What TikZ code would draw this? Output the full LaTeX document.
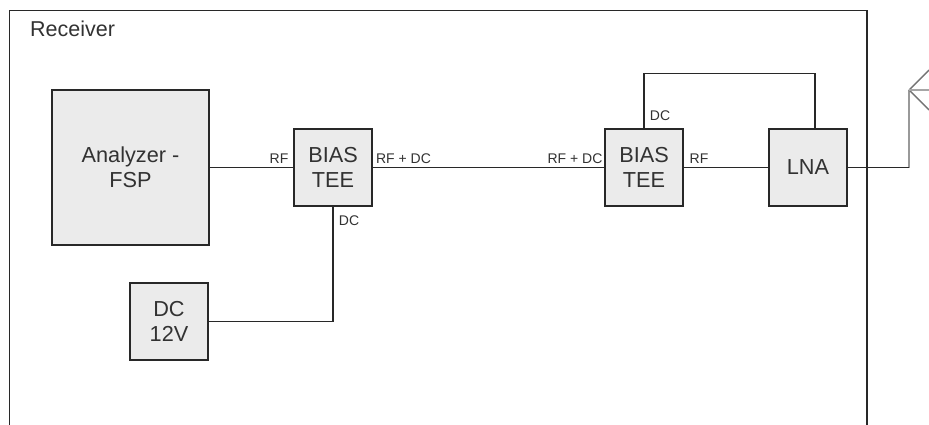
\documentclass[tikz,border=0pt]{standalone}
\usepackage{fontspec}
\setmainfont{Liberation Sans}
\usetikzlibrary{calc,positioning}
\definecolor{boxfill}{RGB}{235,235,235}
\definecolor{wiredark}{RGB}{40,40,40}
\definecolor{inktext}{RGB}{50,50,50}
\tikzset{
  blockbox/.style={draw=wiredark, fill=boxfill, line width=1.4pt, align=center, inner sep=0pt,
                   text=inktext, font=\fontsize{21.7}{25}\selectfont},
  wire/.style={wiredark, line width=1.5pt},
  plabel/.style={font=\fontsize{14}{15}\selectfont, text=inktext, inner sep=0pt},
  mastline/.style={line width=2.6pt, black!40},
  hornline/.style={line width=1.4pt, black!55},
}
\begin{document}
\begin{tikzpicture}[x=1pt,y=-1pt,line join=miter]
  \useasboundingbox (0,0) rectangle (929,425);
  \clip (0,0) rectangle (929,425);
  % ====== Receiver frame ======
  \coordinate (frameBL) at (9.5,440);
  \coordinate (frameTL) at (9.5,10.5);
  \coordinate (frameTR) at (867,10.5);
  \coordinate (frameBR) at (867,440);
  \draw[wire] (frameBL) -- (frameTL) -- (frameTR) -- (frameBR);
  \node[anchor=west, text=inktext, font=\fontsize{21.5}{24}\selectfont, inner sep=0pt] (recvLabel) at (30,29) {Receiver};
  % ====== Blocks ======
  \node[blockbox, minimum width=157pt, minimum height=155pt] (analyzer) at (130.5,167.5) {Analyzer -\\FSP};
  \node[blockbox, minimum width=78pt, minimum height=77pt] (teeLeft) at (333,167.5) {BIAS\\TEE};
  \node[blockbox, minimum width=78pt, minimum height=77pt] (dcSource) at (169,321.5) {DC\\12V};
  \node[blockbox, minimum width=78pt, minimum height=77pt] (teeRight) at (644,167.5) {BIAS\\TEE};
  \node[blockbox, minimum width=78pt, minimum height=77pt] (lna) at (808,167.5) {LNA};
  % ====== Wires ======
  \draw[wire] (analyzer) -- (teeLeft);
  \draw[wire] (teeLeft) -- (teeRight);
  \draw[wire] (teeRight) -- (lna);
  \draw[wire] (teeLeft.south) |- (dcSource.east);
  \coordinate (lnaTap) at ($(lna.north)+(7,0)$);
  \draw[wire] (teeRight.north) -- ++(0,-55) -| (lnaTap);
  % ====== Antenna ======
  \coordinate (mastTop) at (909,90);
  \coordinate (mastFoot) at (909,167.5);
  \draw[mastline] (mastFoot) -- (mastTop);
  \draw[wire] (lna.east) -- (mastFoot);
  \draw[hornline] (mastTop) -- (929,70);
  \draw[hornline] (mastTop) -- (929,110);
  \draw[line width=1.4pt, black!35] (mastTop) -- (929,90);
  % ====== Port labels ======
  \node[plabel] (rfA) at (279,159) {RF};
  \node[plabel] (rfdcA) at (403.5,159) {RF + DC};
  \node[plabel] (dcA) at (349,221) {DC};
  \node[plabel] (rfdcB) at (575,159) {RF + DC};
  \node[plabel] (dcB) at (660,116) {DC};
  \node[plabel] (rfB) at (699,159) {RF};
\end{tikzpicture}
\end{document}
